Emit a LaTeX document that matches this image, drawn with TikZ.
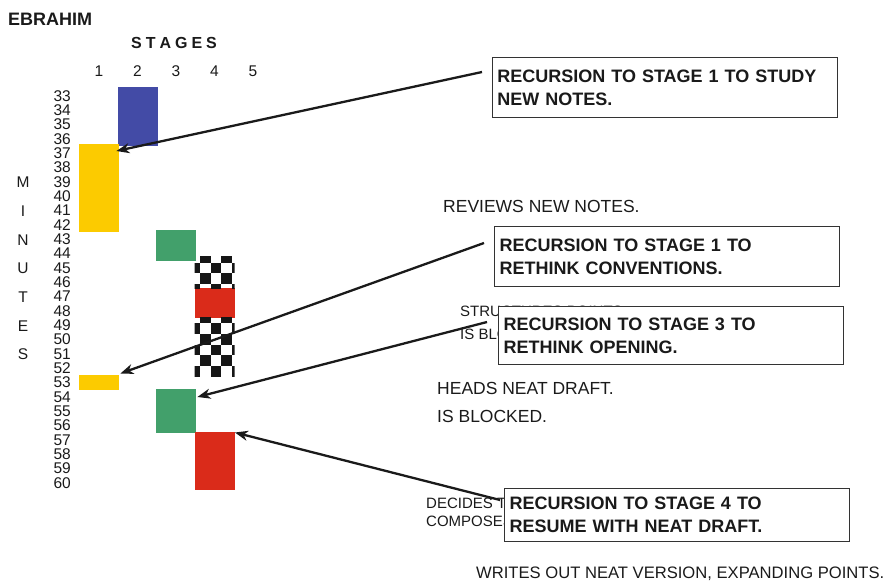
\documentclass[tikz,border=0pt]{standalone}
\usepackage{fontspec}
\setmainfont{Liberation Sans}
\usetikzlibrary{arrows.meta,calc}

\definecolor{barblue}{HTML}{434BA6}
\definecolor{baryellow}{HTML}{FCCB00}
\definecolor{bargreen}{HTML}{42A06B}
\definecolor{barred}{HTML}{DA2B1A}
\definecolor{checkink}{HTML}{161616}
\definecolor{ink}{HTML}{1A1A1A}
\definecolor{frame}{HTML}{333333}

\begin{document}
\begin{tikzpicture}[x=1pt,y=-1pt,
  axislbl/.style={inner sep=0pt, text=ink, font=\fontsize{15.5}{16}\selectfont},
  note/.style={inner sep=0pt, anchor=west, text=ink, font=\fontsize{17.5}{19}\selectfont},
  smallnote/.style={inner sep=0pt, anchor=west, text=ink, font=\fontsize{15}{17}\selectfont},
  bar/.style={anchor=north west, inner sep=0pt, minimum width=40pt, draw=none},
  callout/.style={anchor=north west, draw=frame, line width=1.3pt, fill=white,
    minimum width=345pt, text width=335pt, inner xsep=5pt, inner ysep=4pt,
    align=left, text=ink, font=\bfseries\fontsize{18}{23}\selectfont},
  recur/.style={draw=ink, line width=2.3pt,
    -{Stealth[length=13pt,width=10pt,inset=4pt]}}
]
\useasboundingbox (0,0) rectangle (890,586);

% headings
\node[inner sep=0pt, anchor=west, text=ink, font=\bfseries\fontsize{18}{20}\selectfont]
  (who) at (8,19) {EBRAHIM};
\node[inner sep=0pt, text=ink, font=\bfseries\fontsize{16}{18}\selectfont]
  (stages) at (174,43) {S\hspace{4pt}T\hspace{4pt}A\hspace{4pt}G\hspace{4pt}E\hspace{4pt}S};

% stage numbers
\foreach \k in {1,...,5}
  \node[axislbl] (st\k) at ({99+(\k-1)*38.5},71) {\k};

% minute numbers
\foreach \m in {33,...,60}
  \node[axislbl, anchor=east] (min\m) at (71,{95.7+(\m-33)*14.34}) {\m};

% vertical axis title
\foreach \ch [count=\i from 0] in {M,I,N,U,T,E,S}
  \node[axislbl] (ax\i) at (23,{182.5+\i*28.68}) {\ch};

% activity bars
\node[bar, fill=barblue,   minimum height=59pt]   (blue)  at (117.5,87)  {};
\node[bar, fill=baryellow, minimum height=88pt]   (yelA)  at (79,144)    {};
\node[bar, fill=bargreen,  minimum height=30.7pt] (grnA)  at (156,230)   {};
\node[bar, fill=barred,    minimum height=30pt]   (redA)  at (194.5,288) {};
\node[bar, fill=baryellow, minimum height=15.5pt] (yelB)  at (79,374.5)  {};
\node[bar, fill=bargreen,  minimum height=44.5pt] (grnB)  at (156,388.5) {};
\node[bar, fill=barred,    minimum height=58.5pt] (redB)  at (194.5,431.5) {};

% checkered stretches in stage 4
\foreach \top/\bot/\phase in {256/288/262.5, 317/376/323.3} {
  \begin{scope}
    \clip (194.5,\top) rectangle (234.5,\bot);
    \foreach \i in {-1,...,4}
      \foreach \j in {-7,...,6} {
        \pgfmathtruncatemacro{\odd}{mod(\i+\j+100,2)}
        \ifnum\odd=1
          \fill[checkink] ({200+\i*10.7},{\phase+\j*10.7}) rectangle ++(10.7,10.7);
        \fi
      }
  \end{scope}
}

% protocol remarks
\node[note] (rev) at (443,206) {REVIEWS NEW NOTES.};
\node[smallnote] (stru) at (460,311.5) {STRUCTURES POINTS.};
\node[smallnote] (blk1) at (460,334) {IS BLOCKED.};
\node[note] (heads) at (437,388) {HEADS NEAT DRAFT.};
\node[note] (blk2) at (437,416) {IS BLOCKED.};
\node[smallnote] (dec) at (426,503) {DECIDES TO};
\node[smallnote] (comp) at (426,521) {COMPOSES};
\node[note, font=\fontsize{16.6}{18}\selectfont] (writes) at (476,574)
  {WRITES OUT NEAT VERSION, EXPANDING POINTS.};

% recursion call-outs
\node[callout, minimum height=60pt] (box1) at (491.7,57)
  {RECURSION TO STAGE 1 TO STUDY\\NEW NOTES.};
\node[callout, minimum height=60pt] (box2) at (494,226)
  {RECURSION TO STAGE 1 TO\\RETHINK CONVENTIONS.};
\node[callout, minimum height=58pt] (box3) at (498,306)
  {RECURSION TO STAGE 3 TO\\RETHINK OPENING.};
\node[callout, minimum height=53pt] (box4) at (504,488)
  {RECURSION TO STAGE 4 TO\\RESUME WITH NEAT DRAFT.};

% arrow ends
\coordinate (t1) at ($(box1.north west)+(-9.7,15)$);
\coordinate (t2) at ($(box2.north west)+(-10,17)$);
\coordinate (t3) at ($(box3.north west)+(-11,16)$);
\coordinate (t4) at ($(box4.north west)+(-4,12)$);
\coordinate (h1) at ($(yelA.north east)+(-3,7)$);
\coordinate (h2) at ($(yelB.north east)+(1,-1)$);
\coordinate (h3) at ($(grnB.north east)+(1,8.5)$);
\coordinate (h4) at ($(redB.north east)+(0,1)$);

\draw[recur] (t1) -- (h1);
\draw[recur] (t2) -- (h2);
\draw[recur] (t3) -- (h3);
\draw[recur] (t4) -- (h4);

\end{tikzpicture}
\end{document}
